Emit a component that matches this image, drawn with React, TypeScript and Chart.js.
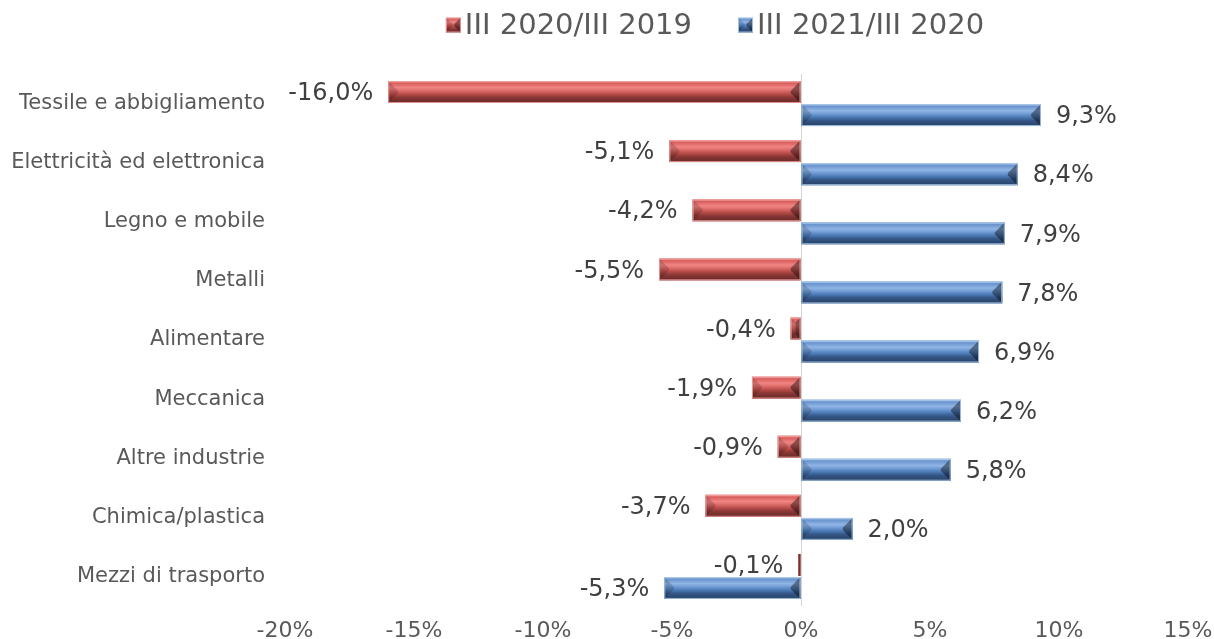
import React, { useEffect, useRef } from "react";
import { Chart, registerables } from "chart.js";

Chart.register(...registerables);

const categories = [
  "Tessile e abbigliamento",
  "Elettricità ed elettronica",
  "Legno e mobile",
  "Metalli",
  "Alimentare",
  "Meccanica",
  "Altre industrie",
  "Chimica/plastica",
  "Mezzi di trasporto",
];
const seriesNames = ["III 2020/III 2019", "III 2021/III 2020"];
const values2020 = [-16.0, -5.1, -4.2, -5.5, -0.4, -1.9, -0.9, -3.7, -0.1];
const values2021 = [9.3, 8.4, 7.9, 7.8, 6.9, 6.2, 5.8, 2.0, -5.3];
const xTickMin = -20;
const xTickMax = 15;
const xTickStep = 5;

const FONT = "'DejaVu Sans', Verdana, sans-serif";

type Pal = { base: string; edge: string; dark: string; stops: [number, string][] };
const palettes: Pal[] = [
  {
    base: "#c0504d",
    edge: "rgba(240,160,158,0.9)",
    dark: "#7a2f2d",
    stops: [
      [0, "#f2a3a1"],
      [0.1, "#d85f5d"],
      [0.3, "#f08583"],
      [0.42, "#e0706e"],
      [0.6, "#b84b48"],
      [0.75, "#8a3836"],
      [1, "#662826"],
    ],
  },
  {
    base: "#4f81bd",
    edge: "rgba(170,200,235,0.9)",
    dark: "#2c4a72",
    stops: [
      [0, "#b3cdeb"],
      [0.1, "#6994cd"],
      [0.3, "#90b5e5"],
      [0.42, "#76a0d8"],
      [0.6, "#4b7ab6"],
      [0.75, "#355686"],
      [1, "#254165"],
    ],
  },
];

function drawBevel(ctx: CanvasRenderingContext2D, L: number, T: number, R: number, B: number, pal: Pal) {
  const w = R - L;
  const h = B - T;
  if (w <= 0 || h <= 0) return;
  if (w < 3) {
    ctx.fillStyle = pal.dark;
    ctx.fillRect(L, T, w, h);
    return;
  }
  const g = ctx.createLinearGradient(0, T, 0, B);
  pal.stops.forEach(([o, c]) => g.addColorStop(o, c));
  ctx.fillStyle = g;
  ctx.fillRect(L, T, w, h);
  const b = Math.min(h * 0.45, w / 2);
  ctx.beginPath();
  ctx.moveTo(L, T);
  ctx.lineTo(L + b, T + b);
  ctx.lineTo(L + b, B - b);
  ctx.lineTo(L, B);
  ctx.closePath();
  ctx.fillStyle = "rgba(0,0,0,0.16)";
  ctx.fill();
  ctx.beginPath();
  ctx.moveTo(R, T);
  ctx.lineTo(R - b, T + b);
  ctx.lineTo(R - b, B - b);
  ctx.lineTo(R, B);
  ctx.closePath();
  ctx.fillStyle = "rgba(0,0,0,0.4)";
  ctx.fill();
  ctx.strokeStyle = pal.edge;
  ctx.lineWidth = 1;
  ctx.strokeRect(L + 0.5, T + 0.5, w - 1, h - 1);
}

const fmt = (v: number) => v.toFixed(1).replace(".", ",") + "%";

const bevelPlugin = {
  id: "bevelBars",
  afterDatasetsDraw(chart: any) {
    const ctx: CanvasRenderingContext2D = chart.ctx;
    ctx.save();
    chart.data.datasets.forEach((ds: any, di: number) => {
      const meta = chart.getDatasetMeta(di);
      meta.data.forEach((el: any, i: number) => {
        const p = el.getProps(["x", "y", "base", "height"], true);
        const L = Math.min(p.x, p.base);
        const R = Math.max(p.x, p.base);
        const T = p.y - p.height / 2;
        const B = p.y + p.height / 2;
        drawBevel(ctx, L, T, R, B, palettes[di]);
        const v = ds.data[i];
        ctx.font = `24px ${FONT}`;
        ctx.fillStyle = "#404040";
        ctx.textBaseline = "middle";
        if (v < 0) {
          ctx.textAlign = "right";
          ctx.fillText(fmt(v), p.x - 15, p.y + 2);
        } else {
          ctx.textAlign = "left";
          ctx.fillText(fmt(v), p.x + 15, p.y + 2);
        }
      });
    });
    ctx.restore();
  },
  afterDraw(chart: any) {
    const ctx: CanvasRenderingContext2D = chart.ctx;
    ctx.save();
    ctx.font = `29px ${FONT}`;
    ctx.textBaseline = "middle";
    ctx.textAlign = "left";
    const box = 15;
    const gap = 4;
    const itemGap = 46;
    const widths = chart.data.datasets.map((d: any) => ctx.measureText(d.label).width);
    const total = widths.reduce((a: number, w: number) => a + box + gap + w, 0) + itemGap * (widths.length - 1);
    let x = 715 - total / 2;
    const cy = 25;
    chart.data.datasets.forEach((d: any, di: number) => {
      drawBevel(ctx, x, cy - box / 2, x + box, cy + box / 2, palettes[di]);
      ctx.fillStyle = "#595959";
      ctx.fillText(d.label, x + box + gap, cy + 1);
      x += box + gap + widths[di] + itemGap;
    });
    ctx.restore();
  },
};

export default function App() {
  const ref = useRef<HTMLCanvasElement | null>(null);
  useEffect(() => {
    if (!ref.current) return;
    const chart = new Chart(ref.current, {
      type: "bar",
      data: {
        labels: categories,
        datasets: [
          {
            label: seriesNames[0],
            data: values2020,
            backgroundColor: palettes[0].base,
            borderWidth: 0,
            categoryPercentage: 0.78,
            barPercentage: 0.95,
          },
          {
            label: seriesNames[1],
            data: values2021,
            backgroundColor: palettes[1].base,
            borderWidth: 0,
            categoryPercentage: 0.78,
            barPercentage: 0.95,
          },
        ],
      },
      options: {
        indexAxis: "y",
        animation: false,
        responsive: false,
        layout: { padding: { top: 74, right: 26, left: 0, bottom: 0 } },
        plugins: {
          legend: { display: false },
          tooltip: { enabled: false },
        },
        scales: {
          x: {
            type: "linear",
            min: xTickMin,
            max: xTickMax,
            ticks: {
              stepSize: xTickStep,
              padding: 12,
              color: "#595959",
              font: { family: FONT, size: 22 },
              callback: (v: any) => `${v}%`,
            },
            grid: {
              drawTicks: false,
              color: (c: any) => (c.tick && c.tick.value === 0 ? "#d4d4d4" : "rgba(0,0,0,0)"),
              lineWidth: 1,
            },
            border: { display: false },
            afterFit: (s: any) => {
              s.height = 33;
              s.paddingLeft = 0;
              s.paddingRight = 0;
            },
          },
          y: {
            type: "category",
            ticks: {
              padding: 20,
              color: "#595959",
              font: { family: FONT, size: 21 },
            },
            grid: { display: false, drawTicks: false },
            border: { display: false },
            afterFit: (s: any) => {
              s.width = 285;
              s.paddingTop = 0;
              s.paddingBottom = 0;
            },
          },
        },
      },
      plugins: [bevelPlugin],
    } as any);
    return () => chart.destroy();
  }, []);
  return (
    <div style={{ position: "absolute", left: 0, top: 0, width: 1214, height: 639, background: "#fff" }}>
      <canvas ref={ref} width={1214} height={639} style={{ display: "block" }} />
    </div>
  );
}
